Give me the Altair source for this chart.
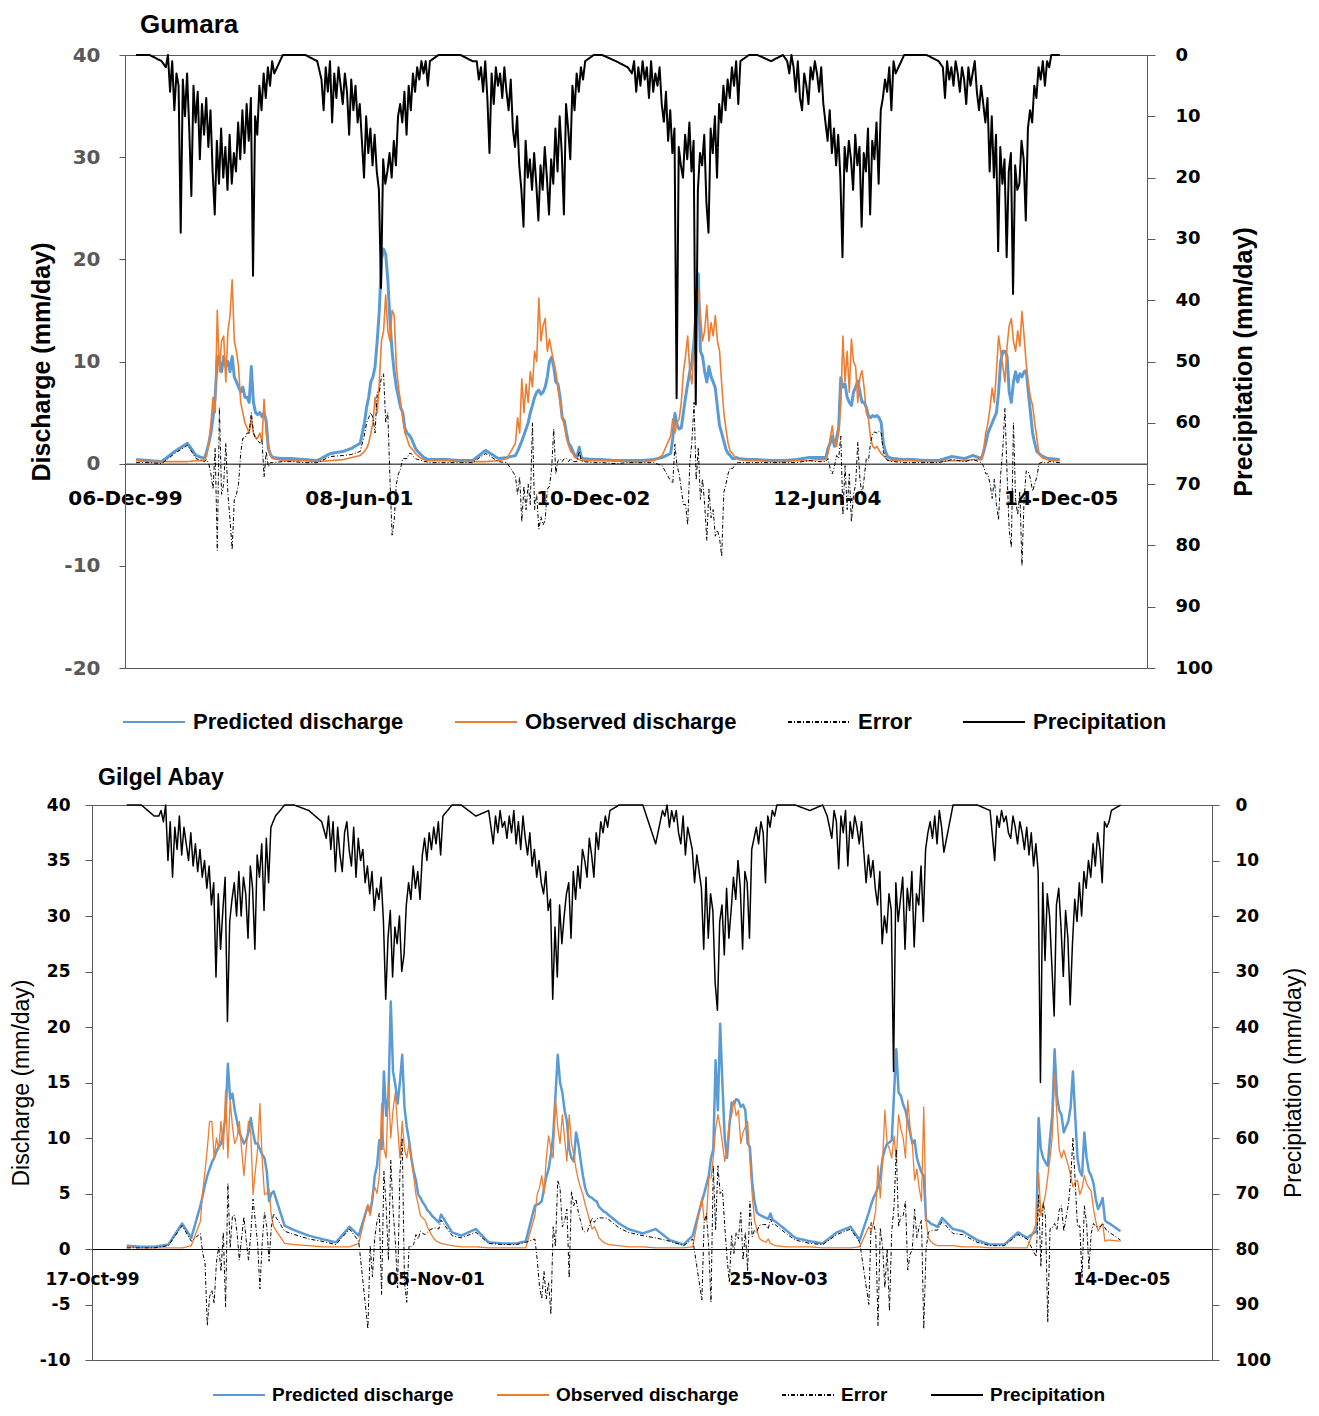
import datetime as dt
import altair as alt
import pandas as pd

YEARS = [2000, 2001, 2002, 2003, 2004, 2005]
SERIES = ["Predicted discharge", "Observed discharge", "Error", "Precipitation"]
COLORS = ["#5B9BD5", "#ED7D31", "#000000", "#000000"]
DASHES = [[1, 0], [1, 0], [4, 2, 1, 2], [1, 0]]

# sampling days (day of year) used when reading the curves off the picture
Q_PRE_DAYS = [0, 32, 60, 91, 121, 141]
Q_WET_START, Q_STEP = 161, 5
P_PRE_DAYS = [0, 32, 60]
P_WET_START, P_STEP = 70, 5
POST_DAY = 345

# ---------------- Gumara (mm/day), one list per year ----------------
GUM_PRED = [
    [0.4, 0.3, 0.2, 1.2, 2.0, 0.8, 0.5, 1.2, 2.0, 3.0, 4.5, 6.5, 10.5, 10.0, 9.0, 10.5, 9.5, 10.0, 9.0, 10.5, 8.5, 8.0, 7.5, 7.0, 7.5, 6.5, 6.5, 6.0, 9.5, 6.0, 5.0, 4.8, 5.0, 4.6, 5.0, 4.2, 1.5, 0.9, 0.6, 0.5],
    [0.5, 0.4, 0.3, 1.0, 1.2, 1.5, 2.0, 3.0, 4.0, 5.5, 6.5, 8.0, 8.5, 9.5, 12.0, 15.0, 20.0, 21.0, 20.5, 18.0, 14.0, 11.0, 9.0, 7.5, 6.5, 5.5, 5.0, 3.5, 3.0, 2.8, 2.5, 2.0, 1.5, 1.2, 1.0, 0.8, 0.6, 0.5, 0.4, 0.4],
    [0.4, 0.3, 0.3, 1.3, 0.5, 0.6, 0.8, 1.2, 1.7, 2.2, 2.8, 3.4, 4.0, 5.0, 5.7, 6.5, 7.0, 7.2, 6.8, 7.0, 7.5, 8.5, 10.0, 10.4, 9.5, 8.0, 7.8, 6.5, 4.5, 4.2, 3.0, 2.0, 1.7, 1.2, 0.8, 0.7, 1.6, 0.6, 0.5, 0.4],
    [0.4, 0.3, 0.3, 0.3, 0.4, 0.6, 1.0, 2.5, 4.9, 3.8, 3.4, 3.5, 5.0, 6.5, 7.8, 9.0, 10.0, 12.0, 15.0, 18.6, 11.0, 10.5, 9.0, 8.0, 9.5, 8.5, 8.0, 7.4, 5.5, 3.7, 3.0, 2.2, 1.4, 1.0, 0.8, 0.5, 0.5, 0.6, 0.5, 0.4],
    [0.4, 0.3, 0.3, 0.4, 0.6, 0.6, 0.6, 1.5, 2.0, 2.7, 1.7, 2.5, 3.5, 8.4, 7.5, 7.8, 6.5, 6.0, 5.7, 7.0, 7.5, 8.1, 7.0, 6.0, 6.0, 5.5, 4.7, 4.5, 4.7, 4.6, 4.7, 4.5, 4.0, 2.0, 1.2, 0.7, 0.6, 0.5, 0.5, 0.4],
    [0.4, 0.3, 0.3, 0.7, 0.5, 0.8, 0.5, 1.2, 2.0, 3.0, 3.5, 4.0, 4.5, 5.0, 7.0, 10.0, 11.0, 11.0, 10.5, 7.0, 6.0, 8.0, 9.0, 8.0, 8.8, 8.5, 9.0, 9.1, 7.0, 5.0, 3.0, 2.0, 1.2, 1.0, 0.8, 0.7, 0.6, 0.5, 0.5, 0.4],
]
GUM_OBS = [
    [0.3, 0.2, 0.2, 0.2, 0.2, 0.3, 0.3, 0.8, 2.0, 4.0, 6.5, 5.0, 15.0, 9.0, 12.0, 12.5, 8.0, 13.0, 14.5, 18.0, 12.0, 11.0, 9.5, 6.0, 5.0, 4.0, 3.5, 3.0, 4.5, 3.0, 2.5, 2.5, 3.0, 2.2, 6.3, 3.0, 1.8, 0.8, 0.5, 0.3],
    [0.3, 0.3, 0.2, 0.3, 0.4, 0.6, 0.8, 1.0, 1.2, 1.5, 2.0, 3.0, 4.0, 6.5, 5.0, 8.0, 12.0, 13.0, 16.5, 13.0, 12.0, 15.0, 14.5, 9.5, 7.5, 6.0, 4.5, 3.0, 2.5, 1.8, 1.5, 1.3, 1.0, 0.8, 0.6, 0.5, 0.4, 0.3, 0.3, 0.3],
    [0.3, 0.2, 0.2, 0.2, 0.3, 0.5, 2.0, 4.5, 3.0, 8.3, 5.0, 7.8, 6.0, 9.0, 7.5, 11.0, 10.0, 16.2, 12.0, 13.5, 14.2, 11.0, 12.2, 11.0, 10.0, 9.0, 7.5, 6.0, 4.5, 3.7, 2.5, 1.8, 1.2, 1.0, 0.6, 0.5, 0.4, 0.3, 0.3, 0.3],
    [0.3, 0.3, 0.2, 0.2, 0.3, 0.8, 2.7, 4.4, 3.0, 4.0, 4.4, 6.0, 9.0, 10.5, 12.5, 9.0, 7.8, 12.0, 16.6, 17.0, 14.5, 12.0, 13.0, 15.5, 12.0, 13.8, 12.5, 14.5, 12.0, 11.0, 7.8, 5.0, 3.4, 2.0, 1.2, 1.0, 0.7, 0.5, 0.4, 0.3],
    [0.3, 0.2, 0.2, 0.3, 0.3, 0.4, 0.4, 1.0, 2.5, 3.7, 2.0, 1.7, 3.0, 5.7, 12.5, 8.0, 11.0, 7.0, 12.2, 10.0, 9.5, 6.0, 8.5, 9.1, 7.4, 5.0, 4.4, 2.5, 1.7, 1.5, 1.7, 1.3, 1.0, 0.8, 0.6, 0.4, 0.3, 0.3, 0.3, 0.3],
    [0.3, 0.2, 0.2, 0.3, 0.3, 0.4, 0.4, 1.5, 3.0, 4.0, 5.5, 7.4, 6.0, 9.0, 12.5, 11.0, 9.5, 8.0, 11.5, 13.5, 14.2, 12.0, 11.0, 13.0, 11.5, 14.9, 12.5, 9.8, 7.8, 6.5, 5.7, 4.0, 2.5, 1.0, 0.7, 0.5, 0.5, 0.4, 0.3, 0.3],
]
GUM_ERR = [
    [0.1, 0.1, 0.0, 1.0, 1.8, 0.5, 0.2, 0.4, 0.0, -1.0, -2.5, 1.5, -8.5, 5.5, -3.0, -2.0, 2.0, -3.0, -5.5, -8.4, -3.5, -3.0, -2.0, 1.0, 2.5, 2.5, 3.0, 3.0, 5.0, 3.0, 2.5, 2.3, 2.0, 2.4, -1.3, 1.2, -0.3, 0.1, 0.1, 0.2],
    [0.2, 0.1, 0.1, 0.7, 0.8, 0.9, 1.2, 2.0, 2.8, 4.0, 4.5, 5.0, 4.5, 3.0, 7.0, 7.0, 8.5, 8.8, 4.0, 5.0, -1.5, -7.0, -5.5, -2.0, -1.0, -0.5, 0.5, 0.5, 0.5, 1.0, 1.0, 0.7, 0.5, 0.4, 0.4, 0.3, 0.2, 0.2, 0.1, 0.1],
    [0.1, 0.1, 0.1, 1.0, 0.2, 0.1, -1.2, -3.0, -1.3, -5.7, -2.2, -4.5, -2.0, -4.0, 4.0, -4.5, -3.0, -6.4, -5.2, -6.0, -5.5, -2.5, -2.2, -0.6, 3.4, -1.0, 0.3, 0.5, 0.2, 0.5, 0.5, 0.2, 0.5, 0.2, 0.2, 0.2, 1.2, 0.3, 0.2, 0.1],
    [0.1, 0.0, 0.1, 0.1, 0.1, -0.2, -1.7, -1.9, 1.9, -0.2, -1.0, -2.5, -4.0, -4.0, -6.0, 0.0, 2.2, 6.0, -1.6, 1.6, -3.5, -1.5, -4.0, -7.5, -2.5, -5.3, -4.5, -7.1, -6.5, -7.3, -9.1, -2.8, -2.0, -1.0, -0.4, -0.5, -0.2, 0.1, 0.1, 0.1],
    [0.1, 0.1, 0.1, 0.1, 0.3, 0.2, 0.2, 0.5, -0.5, -1.0, -0.3, 0.8, 0.5, 2.7, -5.0, -0.2, -4.5, -1.0, -5.7, -3.0, -2.0, 2.1, -1.5, -3.1, -1.4, 0.5, 0.3, 2.0, 3.0, 3.1, 3.0, 3.2, 3.0, 1.2, 0.6, 0.3, 0.3, 0.2, 0.2, 0.1],
    [0.1, 0.1, 0.1, 0.4, 0.2, 0.4, 0.1, -0.3, -1.0, -1.0, -2.0, -3.4, -1.5, -4.0, -5.5, -1.0, 1.5, 5.4, -1.0, -6.5, -8.2, 4.0, -3.5, -5.0, -2.7, -10.0, -3.5, -0.7, -0.8, -1.5, -2.7, -2.0, -1.3, 0.0, 0.1, 0.2, 0.1, 0.1, 0.2, 0.1],
]
GUM_PREC = [
    [0, 0, 1, 2, 0, 6, 1, 9, 3, 5, 29, 4, 10, 3, 12, 23, 5, 11, 6, 17, 8, 13, 7, 15, 9, 19, 26, 14, 21, 12, 20, 15, 22, 13, 21, 16, 19, 11, 17, 9, 16, 8, 14, 7, 36, 10, 13, 5, 9, 3, 7, 2, 5, 1, 3, 0],
    [0, 0, 1, 4, 9, 2, 6, 1, 11, 3, 7, 2, 5, 8, 3, 6, 13, 4, 9, 5, 11, 8, 14, 20, 10, 16, 12, 18, 13, 19, 22, 38, 17, 21, 19, 16, 20, 14, 18, 10, 8, 11, 6, 13, 5, 9, 3, 6, 2, 4, 1, 3, 1, 5, 1, 0],
    [0, 0, 1, 1, 4, 2, 6, 1, 7, 16, 3, 8, 2, 5, 3, 7, 2, 6, 9, 4, 12, 15, 10, 18, 22, 28, 14, 20, 17, 22, 16, 21, 27, 18, 22, 15, 20, 26, 17, 21, 12, 19, 10, 16, 26, 8, 12, 17, 5, 9, 3, 6, 2, 4, 1, 0],
    [0, 1, 2, 3, 1, 6, 2, 5, 1, 4, 2, 7, 1, 6, 3, 5, 2, 8, 11, 6, 14, 9, 16, 12, 56, 15, 18, 20, 13, 17, 11, 19, 14, 57, 22, 16, 18, 13, 24, 29, 12, 16, 10, 20, 8, 11, 5, 9, 4, 7, 2, 5, 1, 8, 1, 0],
    [0, 1, 0, 1, 3, 0, 2, 6, 1, 7, 9, 3, 5, 8, 2, 4, 1, 3, 6, 2, 8, 11, 14, 9, 16, 12, 18, 13, 20, 33, 15, 19, 14, 17, 22, 13, 18, 15, 28, 16, 19, 12, 26, 14, 17, 11, 21, 9, 7, 4, 6, 2, 9, 1, 3, 0],
    [0, 0, 1, 2, 7, 1, 4, 2, 5, 1, 3, 6, 2, 4, 8, 2, 5, 3, 1, 6, 9, 5, 8, 11, 7, 19, 10, 20, 13, 32, 15, 21, 17, 33, 19, 16, 39, 18, 22, 21, 14, 17, 27, 12, 9, 11, 5, 7, 2, 4, 1, 5, 1, 2, 0, 0],
]

# ---------------- Gilgel Abay (mm/day), one list per year ----------------
GIL_PRED = [
    [0.3, 0.2, 0.2, 0.4, 2.3, 1.0, 3.9, 4.8, 5.8, 6.6, 7.2, 7.8, 8.2, 8.8, 9.2, 9.5, 10.5, 12.0, 16.7, 13.5, 14.0, 12.5, 11.5, 10.5, 10.0, 9.5, 9.8, 10.5, 11.8, 10.5, 9.5, 9.5, 9.0, 8.5, 8.2, 7.0, 4.3, 5.0, 5.2, 2.1],
    [1.7, 1.2, 0.9, 0.6, 2.0, 1.2, 3.9, 3.3, 4.5, 6.6, 7.5, 9.8, 9.0, 16.0, 12.0, 13.8, 22.3, 16.0, 14.8, 13.1, 15.0, 17.5, 12.8, 11.0, 9.8, 8.2, 7.0, 6.2, 4.9, 4.6, 4.2, 3.9, 3.5, 3.3, 3.0, 2.8, 2.6, 2.4, 3.1, 1.5],
    [1.2, 1.8, 0.6, 0.5, 0.5, 0.7, 3.9, 4.0, 4.1, 4.3, 5.5, 6.5, 7.2, 8.5, 10.2, 13.8, 17.5, 15.0, 14.1, 12.5, 11.5, 9.0, 8.2, 7.9, 10.5, 9.5, 8.0, 6.6, 5.5, 4.9, 4.7, 4.6, 4.4, 4.3, 3.8, 3.6, 3.4, 3.3, 3.1, 2.3],
    [1.8, 1.4, 1.8, 0.8, 0.4, 1.2, 4.3, 5.0, 5.8, 6.6, 8.2, 9.0, 17.0, 12.5, 20.3, 14.8, 10.0, 8.2, 11.0, 13.2, 13.0, 13.5, 13.4, 12.8, 13.0, 12.5, 9.5, 9.2, 6.0, 4.3, 3.3, 3.1, 3.0, 2.9, 2.8, 2.7, 3.2, 2.6, 2.5, 1.7],
    [1.0, 0.7, 0.5, 1.5, 2.0, 0.8, 3.3, 4.0, 4.6, 5.0, 5.6, 6.5, 8.2, 9.0, 9.5, 9.6, 9.8, 14.0, 18.0, 14.1, 13.8, 13.0, 12.5, 11.5, 10.5, 9.5, 9.8, 8.2, 7.5, 6.9, 6.6, 2.6, 2.5, 2.3, 2.2, 2.1, 2.0, 2.4, 2.8, 1.8],
    [1.6, 0.8, 0.4, 0.4, 1.5, 1.0, 1.6, 11.8, 9.0, 8.2, 7.8, 7.5, 10.0, 12.1, 18.0, 13.8, 12.5, 12.1, 10.5, 11.0, 11.5, 12.8, 16.0, 12.0, 8.2, 7.0, 6.6, 10.5, 8.2, 7.0, 6.6, 5.9, 4.5, 3.6, 4.0, 4.6, 2.6, 2.4, 2.3, 1.6],
]
GIL_OBS = [
    [0.2, 0.1, 0.1, 0.1, 0.1, 0.3, 2.5, 5.2, 7.0, 9.0, 11.5, 11.5, 8.2, 10.0, 9.0, 11.5, 9.0, 14.3, 8.2, 13.4, 11.0, 9.5, 10.0, 11.5, 9.0, 6.6, 9.0, 11.5, 10.5, 4.9, 7.0, 9.0, 13.1, 8.0, 4.9, 5.0, 5.4, 3.0, 2.0, 0.5],
    [0.4, 0.3, 0.2, 0.2, 0.2, 0.5, 4.0, 3.0, 5.0, 5.6, 5.0, 6.6, 13.1, 9.0, 8.2, 14.8, 10.0, 12.5, 14.1, 11.0, 8.2, 11.5, 9.0, 8.2, 9.5, 8.0, 6.6, 4.9, 4.0, 3.0, 2.8, 2.6, 2.0, 1.6, 1.2, 0.9, 0.7, 0.6, 0.5, 0.3],
    [0.2, 0.2, 0.1, 0.1, 0.1, 0.1, 3.0, 4.9, 5.5, 6.6, 5.0, 8.2, 10.2, 9.0, 8.2, 13.6, 11.0, 9.5, 12.1, 10.0, 7.9, 12.1, 9.5, 8.5, 7.2, 6.2, 5.5, 4.9, 4.0, 3.3, 2.5, 1.8, 2.0, 1.6, 1.0, 0.8, 0.6, 0.5, 0.4, 0.3],
    [0.2, 0.2, 0.1, 0.1, 0.1, 0.2, 4.6, 2.6, 2.6, 6.4, 6.4, 8.2, 10.8, 12.1, 11.0, 9.5, 7.9, 9.0, 11.5, 12.0, 13.4, 12.0, 12.5, 9.5, 10.5, 11.0, 11.5, 8.0, 4.9, 2.6, 1.8, 1.0, 0.8, 0.7, 0.6, 0.9, 0.5, 0.4, 0.3, 0.2],
    [0.2, 0.2, 0.1, 0.1, 0.1, 0.2, 2.0, 1.6, 2.3, 3.5, 7.5, 4.6, 8.0, 12.5, 9.5, 9.0, 8.2, 10.2, 8.0, 12.1, 10.8, 10.0, 8.2, 13.4, 11.0, 9.5, 6.2, 7.2, 5.5, 4.3, 12.8, 2.6, 1.0, 0.7, 0.5, 0.4, 0.3, 0.3, 0.3, 0.3],
    [0.2, 0.2, 0.1, 0.1, 0.1, 0.1, 2.3, 6.9, 3.0, 4.0, 4.9, 6.5, 8.2, 10.2, 15.7, 12.1, 9.0, 8.2, 8.9, 8.2, 7.5, 6.6, 5.6, 6.0, 6.2, 4.9, 5.5, 6.6, 5.9, 5.5, 5.2, 3.6, 2.5, 1.6, 2.0, 2.3, 0.7, 0.8, 0.8, 0.7],
]
GIL_ERR = [
    [0.1, 0.1, 0.1, 0.3, 2.1, 0.7, 1.4, -0.4, -1.2, -6.9, -4.3, -3.7, -4.9, -1.2, 0.2, -2.0, 1.5, -5.2, 5.9, 0.1, 3.0, 3.0, 1.5, -1.0, 1.0, 2.9, 0.8, -1.0, 1.3, 4.5, 2.5, 0.5, -3.6, 0.5, 3.3, 2.0, -1.1, 2.0, 3.2, 1.6],
    [1.3, 0.9, 0.7, 0.4, 1.8, 0.7, -7.2, 0.3, -2.5, 1.0, 2.5, 3.2, -4.1, 7.0, 3.8, -1.0, 8.0, 3.5, 0.7, -3.5, 6.8, 10.0, -3.0, -4.8, 0.3, 0.2, 0.4, 1.3, 0.9, 1.6, 1.4, 1.3, 1.5, 1.7, 1.8, 1.9, 1.9, 1.8, 2.6, 1.2],
    [1.0, 1.5, 0.5, 0.4, 0.4, 0.6, 0.9, -0.9, -3.3, -4.5, -2.0, -4.5, -3.0, -5.9, 2.0, 0.2, 6.2, 5.5, 2.0, 2.5, 3.6, -2.6, 5.2, 3.9, 4.5, 3.3, 2.5, 1.7, 1.5, 1.6, 2.2, 2.8, 2.4, 2.7, 2.8, 2.8, 2.8, 2.8, 2.7, 1.9],
    [1.5, 1.2, 1.0, 0.7, 0.3, 0.9, -4.6, 2.4, 3.2, 0.2, -4.8, 7.5, 1.7, 7.5, 5.0, 5.3, 2.1, -0.8, -3.0, 1.2, -0.4, 1.5, 0.9, 3.3, -1.0, 1.5, -2.0, 4.3, 1.1, 1.7, 1.5, 2.1, 2.2, 2.2, 2.2, 1.8, 2.7, 2.2, 2.2, 1.4],
    [0.8, 0.5, 0.4, 1.3, 1.8, 0.6, -5.0, 2.4, 2.3, 1.5, -6.9, 1.9, 0.2, -3.5, 0.0, -5.6, 1.6, 3.8, 9.0, 2.0, 3.0, 3.0, 4.3, -1.9, -0.5, 0.0, 3.6, 1.0, 2.0, 2.6, -7.2, 0.0, 1.5, 1.6, 1.7, 1.7, 1.7, 2.1, 2.5, 1.4],
    [1.3, 0.6, 0.3, 0.3, 1.3, 0.9, -0.7, 4.9, -1.6, 4.2, 2.9, -6.6, 1.8, 1.9, 2.3, 1.7, 3.5, 3.9, 1.6, 2.8, 4.0, 6.2, 10.0, 6.0, 2.0, 2.1, -2.6, 3.9, 2.3, -1.8, 1.4, 2.3, 2.0, 2.0, 2.0, 2.3, 1.9, 1.6, 1.5, 0.8],
]
GIL_PREC = [
    [0, 0, 2, 2, 1, 3, 0, 10, 3, 13, 4, 8, 2, 9, 4, 7, 10, 5, 11, 7, 12, 8, 13, 10, 15, 11, 18, 14, 31, 16, 26, 19, 13, 39, 21, 17, 14, 20, 12, 20, 13, 16, 24, 11, 15, 26, 9, 13, 7, 19, 6, 14, 4, 3, 2, 0],
    [0, 1, 3, 6, 2, 8, 3, 12, 4, 9, 12, 5, 3, 8, 11, 4, 13, 6, 10, 8, 14, 11, 16, 12, 19, 15, 17, 13, 21, 35, 24, 19, 31, 22, 25, 20, 30, 27, 18, 14, 17, 11, 15, 12, 17, 9, 6, 10, 5, 8, 4, 7, 3, 9, 2, 0],
    [0, 2, 1, 7, 2, 5, 1, 4, 3, 6, 2, 5, 1, 7, 3, 8, 2, 6, 9, 5, 11, 8, 13, 10, 14, 16, 12, 19, 17, 35, 22, 31, 18, 25, 20, 16, 14, 24, 12, 17, 11, 15, 8, 10, 13, 6, 9, 13, 5, 8, 3, 5, 2, 4, 1, 0],
    [0, 0, 7, 3, 1, 2, 0, 4, 1, 3, 1, 5, 7, 2, 9, 4, 6, 8, 14, 9, 12, 15, 26, 13, 24, 16, 19, 32, 37, 21, 18, 27, 15, 24, 19, 13, 17, 10, 15, 26, 12, 14, 24, 8, 6, 4, 7, 3, 5, 14, 2, 4, 1, 2, 0, 0],
    [0, 1, 0, 2, 4, 6, 1, 3, 11.5, 2, 5, 1, 11, 3, 6, 2, 4, 7, 3, 8.5, 14, 9, 13, 10, 15, 18, 12, 25, 20, 23, 16, 19, 48, 14, 21, 17, 13, 26, 15, 19, 12, 25.6, 16, 18, 11, 21, 8, 5, 3, 6, 2, 7, 1, 4, 8.5, 0],
    [0, 0, 1, 10, 2, 4, 1, 3, 2, 5, 6, 2, 4, 7, 3, 5, 8, 4, 9, 5, 11, 7, 12, 50, 14, 28, 16, 20, 29, 38, 18, 15, 22, 31, 19, 24, 36, 25, 17, 21, 14, 20, 12, 15, 10, 13, 7, 11, 5, 8, 14, 3, 4, 3, 1, 0],
]

GUM_TICKS = [(1999, 12, 6), (2001, 6, 8), (2002, 12, 10), (2004, 6, 12), (2005, 12, 14)]
GUM_DOMAIN = [(1999, 12, 6), (2006, 7, 5)]
GIL_TICKS = [(1999, 10, 17), (2001, 11, 5), (2003, 11, 25), (2005, 12, 14)]
GIL_DOMAIN = [(1999, 10, 17), (2006, 6, 30)]

FRAME = "#595959"


def day_grid(n, pre, start, step):
    return pre + [start + step * i for i in range(n - len(pre) - 1)] + [POST_DAY]


def iso(year, day):
    return (dt.date(year, 1, 1) + dt.timedelta(days=day)).isoformat() + "T00:00:00"


def frame(per_year, series, pre, start, step):
    rows = []
    for year, vals in zip(YEARS, per_year):
        for d, v in zip(day_grid(len(vals), pre, start, step), vals):
            rows.append({"date": iso(year, d), "value": v, "series": series})
    return pd.DataFrame(rows)


def dtm(t):
    return alt.DateTime(year=t[0], month=t[1], date=t[2])


def panel(title, pred, obs, err, prec, s):
    W, H, inset = s["W"], s["H"], s["inset"]
    zero_from_top = H * s["ymax"] / (s["ymax"] - s["ymin"])
    zero_off = zero_from_top - H
    w = s["widths"]
    boxed = inset > 0  # draw the plot frame with axis domains instead of the view outline

    # x axis on the zero line; its blank title only pins the bottom of the panel (below the legend)
    zero_axis = alt.Axis(
        values=[dtm(t) for t in s["ticks"]], format="%d-%b-%y", orient="bottom",
        offset=zero_off, domain=True, domainColor="black", domainWidth=1,
        ticks=False, grid=False, labelFont="DejaVu Sans", labelFontWeight="bold",
        labelFontSize=s["xfs"], labelColor="black", labelPadding=s["xpad"],
        labelFlush=False, labelOverlap=False,
        title=" ", titleX=inset, titleY=s["anchor_y"] - zero_from_top,
        titleAlign="left", titleBaseline="bottom", titleFontSize=4,
    )
    top_axis = alt.Axis(orient="top", domain=True, domainColor=FRAME, domainWidth=1,
                        labels=False, ticks=False, grid=False, title=None)
    bottom_axis = alt.Axis(orient="bottom", offset=0, domain=True, domainColor=FRAME,
                           domainWidth=1, labels=False, ticks=False, grid=False, title=None)

    xscale = alt.Scale(domain=[dtm(t) for t in s["domain"]], nice=False)
    if boxed:
        xscale = alt.Scale(domain=[dtm(t) for t in s["domain"]], nice=False, range=[inset, W])

    def xenc(axis):
        return alt.X("date:T", scale=xscale, axis=axis)

    legend = alt.Legend(
        title=None, orient="none", legendX=s["lx"], legendY=s["ly"], direction="horizontal",
        symbolType="stroke", symbolSize=s["sym"] ** 2, symbolStrokeWidth=s["lsw"],
        labelFont="Liberation Sans", labelFontSize=s["lfs"], labelFontWeight="bold",
        labelColor="black", labelOffset=s["loff"], columnPadding=s["cpad"],
        labelLimit=600, padding=0,
    )
    color = alt.Color("series:N", scale=alt.Scale(domain=SERIES, range=COLORS), legend=legend)
    dash = alt.StrokeDash("series:N", scale=alt.Scale(domain=SERIES, range=DASHES), legend=legend)

    yl = alt.Axis(
        values=list(range(s["ymin"], s["ymax"] + 1, s["ystep"])), orient="left",
        offset=-inset, domain=boxed, domainColor=FRAME, domainWidth=1,
        ticks=True, tickSize=s["ltick"], tickColor=FRAME, grid=False,
        labelFont="DejaVu Sans", labelFontWeight="bold", labelFontSize=s["yfs"],
        labelColor=s["ylc"], labelPadding=s["ylpad"], labelOverlap=False,
        labelExpr="'' + datum.value",
        title="Discharge (mm/day)", titleFont="Liberation Sans", titleFontSize=s["tfs"],
        titleFontWeight=s["tfw"], titleColor="black", titleAngle=270, titleX=s["ltx"],
        titleY=H / 2, titleAlign="center", titleBaseline="middle",
    )
    yr = alt.Axis(
        values=list(range(0, 101, 10)), orient="right", domain=boxed, domainColor=FRAME,
        domainWidth=1, ticks=True, tickSize=s["rtick"], tickColor=FRAME, grid=False,
        labelFont="DejaVu Sans", labelFontWeight="bold", labelFontSize=s["rfs"],
        labelColor="black", labelPadding=s["rlpad"], labelOverlap=False,
        title="Precipitation (mm/day)", titleFont="Liberation Sans", titleFontSize=s["tfs"],
        titleFontWeight=s["tfw"], titleColor="black", titleAngle=270, titleX=s["rtx"],
        titleY=H / 2, titleAlign="center", titleBaseline="middle",
    )
    yq = alt.Y("value:Q", scale=alt.Scale(domain=[s["ymin"], s["ymax"]], nice=False, zero=False), axis=yl)
    yp = alt.Y("value:Q", scale=alt.Scale(domain=[0, 100], reverse=True, nice=False), axis=yr)

    def line(df, sw, y, xaxis):
        return alt.Chart(df).mark_line(strokeWidth=sw, strokeJoin="round").encode(
            x=xenc(xaxis), y=y, color=color, strokeDash=dash
        )

    q = lambda arr, i: frame(arr, SERIES[i], Q_PRE_DAYS, Q_WET_START, Q_STEP)
    inner = alt.layer(
        line(q(pred, 0), w[0], yq, zero_axis),
        line(q(obs, 1), w[1], yq, top_axis if boxed else zero_axis),
        line(q(err, 2), w[2], yq, bottom_axis if boxed else zero_axis),
    )
    if boxed:
        inner = inner.resolve_axis(x="independent")
    prec_layer = line(frame(prec, SERIES[3], P_PRE_DAYS, P_WET_START, P_STEP), w[3], yp,
                      None if boxed else zero_axis)

    ch = alt.layer(inner, prec_layer).resolve_scale(y="independent").properties(
        width=W, height=H,
        title=alt.TitleParams(title, anchor="start", frame="group", dx=s["tdx"], fontSize=s["hfs"],
                              font="Liberation Sans", fontWeight="bold", color="black",
                              offset=s["hoff"]),
    )
    if boxed:
        ch = ch.properties(view=alt.ViewBackground(stroke="transparent"))
    return ch


# Gumara: plot starts 33 px right of the shared left edge, so its scale range is inset
TOP = dict(W=1055, H=613, inset=33, ymin=-20, ymax=40, ystep=10, ticks=GUM_TICKS, domain=GUM_DOMAIN,
           xfs=20, xpad=25, widths=[3, 1.6, 1, 2.0], lx=30, ly=635, anchor_y=659, sym=62,
           lsw=2, lfs=22, loff=7, cpad=47, ltick=6, yfs=20, ylc="#595959", ylpad=19, tfs=25,
           tfw="bold", ltx=-84, rtick=8, rfs=18, rlpad=20, rtx=96, tdx=48, hfs=26, hoff=7)
BOT = dict(W=1120, H=555, inset=0, ymin=-10, ymax=40, ystep=5, ticks=GIL_TICKS, domain=GIL_DOMAIN,
           xfs=17, xpad=22, widths=[2.5, 1.3, 1, 1.5], lx=120, ly=563, anchor_y=602, sym=52,
           lsw=2, lfs=19, loff=6, cpad=39, ltick=7, yfs=17, ylc="black", ylpad=15, tfs=23,
           tfw="normal", ltx=-71, rtick=7, rfs=17, rlpad=16, rtx=81, tdx=6, hfs=23, hoff=6)

top = panel("Gumara", GUM_PRED, GUM_OBS, GUM_ERR, GUM_PREC, TOP)
bottom = panel("Gilgel Abay", GIL_PRED, GIL_OBS, GIL_ERR, GIL_PREC, BOT)

chart = alt.vconcat(top, bottom, spacing=32).resolve_scale(
    color="independent", strokeDash="independent"
).resolve_legend(color="independent", strokeDash="independent").properties(
    padding={"left": 1, "right": 0, "top": 3, "bottom": 0}
).configure_view(stroke=FRAME, strokeWidth=1)

chart.save("out.html", embed_options={"renderer": "svg", "actions": False})
